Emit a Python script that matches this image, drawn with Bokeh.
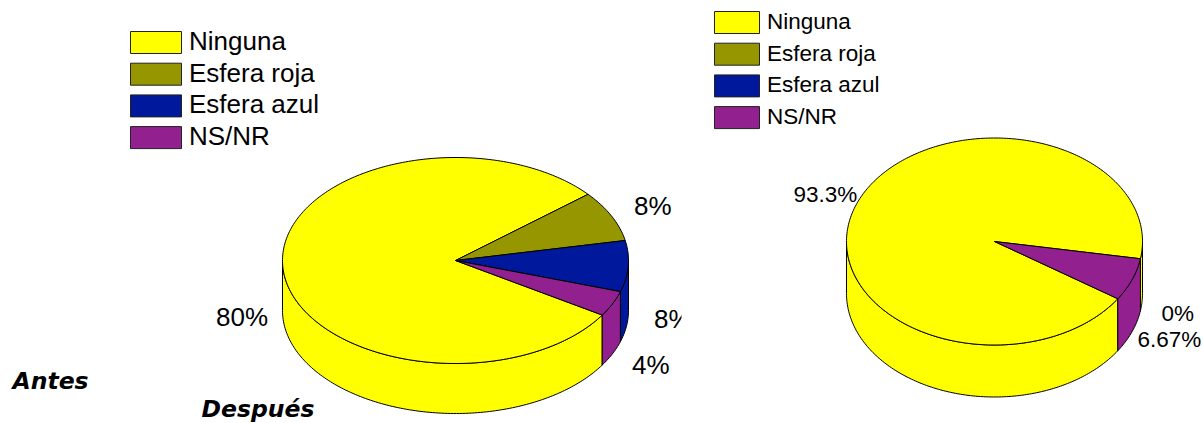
import math
from bokeh.plotting import figure
from bokeh.models import Range1d
from bokeh.core.properties import value
from bokeh.embed import file_html
from bokeh.resources import INLINE

categories = ["Ninguna", "Esfera roja", "Esfera azul", "NS/NR"]
colors = ["#FFFF00", "#969600", "#00189C", "#93208F"]
antes_values = [80, 8, 8, 4]
despues_values = [93.33, 0, 0, 6.67]
antes_labels = ["80%", "8%", "8%", "4%"]
despues_labels = ["93.3%", "0%", "6.67%"]

W, H = 1203, 423
p = figure(width=W, height=H, x_range=Range1d(0, W), y_range=Range1d(H, 0),
           output_backend="svg", toolbar_location=None, min_border=0,
           x_axis_location=None, y_axis_location=None, outline_line_color=None)
p.grid.visible = False
p.background_fill_color = "white"
p.border_fill_color = "white"


def arc(cx, cy, rx, ry, a0, a1, dy=0.0):
    n = max(2, int(abs(a1 - a0)) + 2)
    xs, ys = [], []
    for i in range(n):
        t = math.radians(a0 + (a1 - a0) * i / (n - 1))
        xs.append(cx + rx * math.cos(t))
        ys.append(cy - ry * math.sin(t) + dy)
    return xs, ys


def pie(vals, cx, cy, rx, ry, depth, start):
    total = sum(vals)
    slices = []
    a = start
    for v, c in zip(vals, colors):
        b = a - 360 * v / total
        slices.append((a, b, c))
        a = b
    # side walls: only the front half of the disc (-180..0 and its turn equivalents)
    for a, b, c in slices:
        for k in (0, -360):
            hi = min(a, 0 + k)
            lo = max(b, -180 + k)
            if hi - lo > 0:
                xt, yt = arc(cx, cy, rx, ry, hi, lo)
                xb, yb = arc(cx, cy, rx, ry, lo, hi, depth)
                p.patch(xt + xb, yt + yb, fill_color=c, line_color="black", line_width=1)
    # top faces
    for a, b, c in slices:
        if a - b <= 0:
            continue
        xt, yt = arc(cx, cy, rx, ry, a, b)
        p.patch([cx] + xt, [cy] + yt, fill_color=c, line_color="black", line_width=1)


def legend(x0, x1, ytop, tx, font, size, dy):
    for i, (name, c) in enumerate(zip(categories, colors)):
        y = ytop + i * 31.7
        p.quad(left=x0, right=x1, top=y, bottom=y + 22, fill_color=c,
               line_color="#222222", line_width=1)
        p.text([tx], [y + dy], text=[name], text_font=value(font), text_font_size=size,
               text_baseline="middle", text_color="black")


def label(x, y, s, font="Liberation Sans", size="26px"):
    p.text([x], [y], text=[s], text_font=value(font), text_font_size=size,
           text_baseline="middle", text_align="left", text_color="black")


pie(antes_values, 455, 260, 173, 103, 50, -32)
pie(despues_values, 994, 241, 148, 103.5, 52, -33.6)

legend(130, 181, 31, 188.5, "Liberation Sans", "26px", 9.5)
legend(714, 759, 11, 766.5, "Liberation Sans", "22.5px", 10)

label(215.5, 316.5, antes_labels[0])
label(633.5, 205, antes_labels[1])
label(653.5, 318.5, antes_labels[2])
label(631.5, 364.5, antes_labels[3])
p.quad(left=681, right=700, top=300, bottom=340, fill_color="white", line_color=None)

label(793, 194, despues_labels[0], "Liberation Sans", "22.5px")
label(1161, 312.5, despues_labels[1], "Liberation Sans", "22.5px")
label(1137, 339, despues_labels[2], "Liberation Sans", "22.5px")

p.text([12], [380], text=["Antes"], text_font=value("DejaVu Sans"), text_font_style="bold italic",
       text_font_size="23.5px", text_baseline="middle")
p.text([201], [408.5], text=["Después"], text_font=value("DejaVu Sans"), text_font_style="bold italic",
       text_font_size="23.5px", text_baseline="middle")

open("out.html", "w").write(file_html(p, INLINE))
